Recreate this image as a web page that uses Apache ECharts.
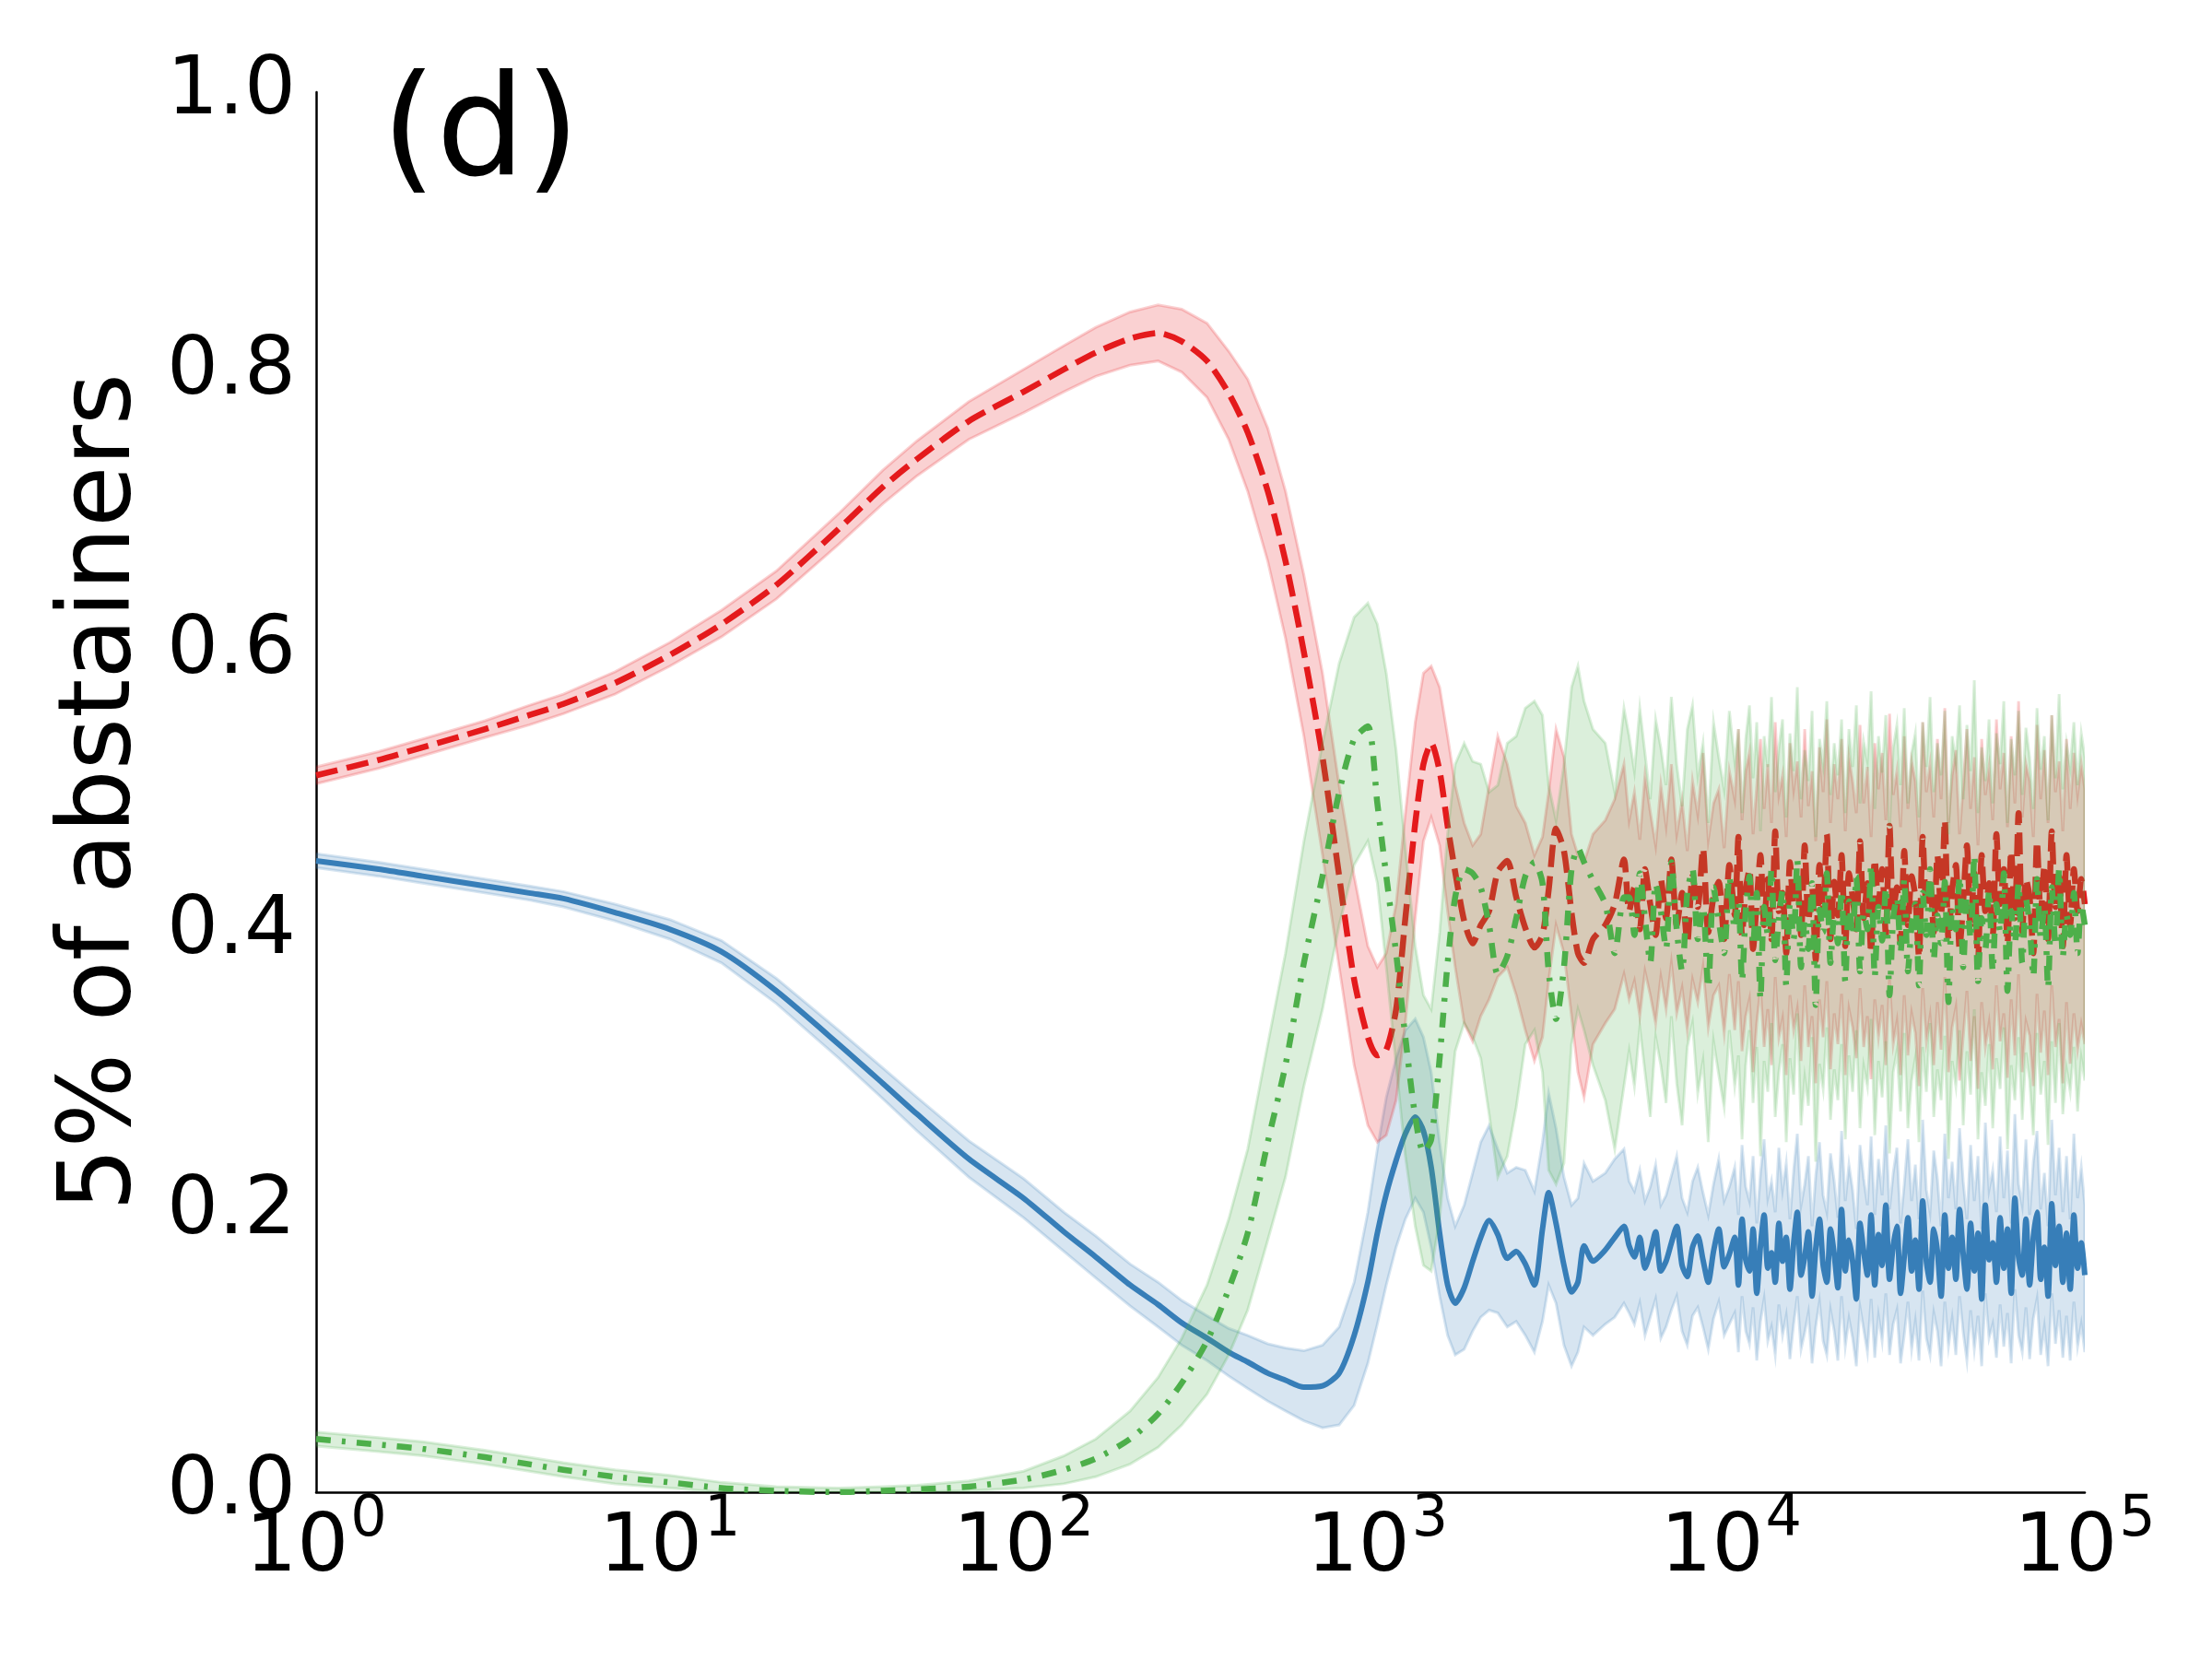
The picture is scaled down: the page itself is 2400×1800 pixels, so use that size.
<!DOCTYPE html>
<html>
<head>
<meta charset="utf-8">
<script src="https://cdn.jsdelivr.net/npm/echarts@6/dist/echarts.min.js"></script>
<style>
  html, body { margin: 0; padding: 0; background: #fff; }
  #chart { width: 2400px; height: 1800px; }
</style>
</head>
<body>
<div id="chart"></div>
<script>
// time steps (log axis), shared by all three series
const steps = [
  1, 1.5, 2, 3, 4, 5, 7, 10, 14, 20,
  30, 40, 50, 70, 100, 130, 160, 200, 240, 280,
  330, 380, 430, 490, 550, 620, 700, 780, 860, 940,
  1000, 1060, 1130, 1200, 1280, 1350, 1420, 1500, 1580, 1660,
  1760, 1860, 1960, 2070, 2190, 2330, 2470, 2620, 2780, 2930,
  3050, 3200, 3370, 3540, 3690, 3840, 4070, 4410, 4690, 4980,
  // noisy part
  5150, 5330, 5520, 5710, 5910, 6120, 6330, 6550, 6780, 7020,
  7270, 7520, 7780, 8050, 8330, 8620, 8920, 9230, 9560, 9890,
  10240, 10490, 10740, 11000, 11270, 11540, 11820, 12110, 12400, 12700,
  13010, 13330, 13650, 13980, 14320, 14670, 15030, 15390, 15770, 16150,
  16540, 16940, 17350, 17780, 18210, 18650, 19100, 19570, 20040, 20530,
  21030, 21540, 22060, 22600, 23150, 23710, 24290, 24880, 25480, 26100,
  26730, 27380, 28050, 28730, 29430, 30140, 30870, 31620, 32390, 33180,
  33980, 34810, 35650, 36520, 37410, 38310, 39240, 40200, 41170, 42170,
  43200, 44250, 45320, 46420, 47550, 48710, 49890, 51100, 52340, 53610,
  54920, 56250, 57620, 59020, 60450, 61920, 63430, 64970, 66550, 68170,
  69820, 71520, 73260, 75040, 76860, 78730, 80640, 82600, 84610, 86670,
  88770, 90930, 93140, 95400, 97720, 100000
];

// red, dashed
const redMean = [
  0.512, 0.523, 0.532, 0.545, 0.555, 0.563, 0.578, 0.598, 0.620, 0.648,
  0.688, 0.718, 0.738, 0.765, 0.786, 0.802, 0.814, 0.824, 0.828, 0.822,
  0.808, 0.785, 0.757, 0.715, 0.665, 0.600, 0.525, 0.440, 0.366, 0.325,
  0.312, 0.316, 0.345, 0.410, 0.478, 0.520, 0.535, 0.515, 0.476, 0.443,
  0.408, 0.392, 0.405, 0.415, 0.443, 0.451, 0.425, 0.403, 0.389, 0.398,
  0.430, 0.474, 0.458, 0.414, 0.385, 0.378, 0.395, 0.405, 0.420, 0.452,
  0.415, 0.432, 0.402, 0.445, 0.420, 0.398, 0.438, 0.410, 0.452, 0.405,
  0.428, 0.392, 0.440, 0.418, 0.460, 0.400, 0.425, 0.436, 0.395, 0.448,
  0.412, 0.468, 0.398, 0.430, 0.445, 0.388, 0.422, 0.455, 0.405, 0.438,
  0.395, 0.472, 0.415, 0.428, 0.385, 0.450, 0.420, 0.440, 0.398, 0.462,
  0.408, 0.432, 0.380, 0.448, 0.418, 0.470, 0.395, 0.436, 0.412, 0.455,
  0.390, 0.442, 0.425, 0.402, 0.465, 0.410, 0.435, 0.385, 0.452, 0.420,
  0.445, 0.398, 0.476, 0.415, 0.432, 0.392, 0.458, 0.405, 0.440, 0.425,
  0.382, 0.468, 0.418, 0.438, 0.400, 0.455, 0.412, 0.480, 0.395, 0.430,
  0.448, 0.388, 0.422, 0.462, 0.405, 0.442, 0.378, 0.455, 0.415, 0.435,
  0.398, 0.470, 0.420, 0.445, 0.392, 0.458, 0.410, 0.485, 0.400, 0.438,
  0.425, 0.385, 0.465, 0.412, 0.448, 0.395, 0.472, 0.418, 0.440, 0.390,
  0.455, 0.405, 0.445, 0.415, 0.438, 0.420
];
const redLo = [
  0.506, 0.517, 0.526, 0.539, 0.548, 0.556, 0.570, 0.590, 0.611, 0.638,
  0.677, 0.706, 0.726, 0.752, 0.771, 0.786, 0.797, 0.805, 0.808, 0.800,
  0.782, 0.752, 0.715, 0.665, 0.610, 0.540, 0.455, 0.375, 0.305, 0.262,
  0.250, 0.255, 0.280, 0.335, 0.410, 0.465, 0.482, 0.462, 0.415, 0.375,
  0.335, 0.322, 0.340, 0.352, 0.368, 0.375, 0.355, 0.330, 0.308, 0.325,
  0.365, 0.405, 0.385, 0.340, 0.300, 0.282, 0.320, 0.335, 0.345, 0.370,
  0.352, 0.365, 0.340, 0.372, 0.355, 0.335, 0.368, 0.345, 0.378, 0.342,
  0.360, 0.330, 0.366, 0.350, 0.375, 0.332, 0.355, 0.362, 0.328, 0.370,
  0.330, 0.365, 0.315, 0.340, 0.352, 0.300, 0.335, 0.360, 0.318, 0.345,
  0.305, 0.368, 0.325, 0.338, 0.298, 0.355, 0.330, 0.345, 0.308, 0.362,
  0.318, 0.340, 0.292, 0.352, 0.325, 0.365, 0.302, 0.342, 0.320, 0.356,
  0.298, 0.345, 0.332, 0.310, 0.360, 0.318, 0.340, 0.295, 0.352, 0.325,
  0.348, 0.305, 0.366, 0.320, 0.336, 0.298, 0.355, 0.312, 0.342, 0.328,
  0.290, 0.360, 0.322, 0.340, 0.305, 0.350, 0.316, 0.368, 0.300, 0.332,
  0.346, 0.294, 0.325, 0.358, 0.308, 0.340, 0.288, 0.350, 0.318, 0.335,
  0.302, 0.362, 0.322, 0.342, 0.296, 0.352, 0.312, 0.370, 0.300, 0.336,
  0.326, 0.290, 0.356, 0.314, 0.344, 0.298, 0.362, 0.318, 0.338, 0.292,
  0.350, 0.306, 0.342, 0.316, 0.334, 0.320
];
const redHi = [
  0.518, 0.529, 0.538, 0.551, 0.562, 0.570, 0.586, 0.607, 0.630, 0.658,
  0.699, 0.730, 0.751, 0.779, 0.802, 0.819, 0.832, 0.843, 0.848, 0.845,
  0.835, 0.815, 0.795, 0.760, 0.715, 0.655, 0.585, 0.505, 0.440, 0.390,
  0.375, 0.385, 0.420, 0.485, 0.550, 0.585, 0.590, 0.575, 0.540, 0.505,
  0.478, 0.462, 0.470, 0.505, 0.540, 0.520, 0.490, 0.478, 0.455, 0.468,
  0.500, 0.545, 0.525, 0.470, 0.455, 0.450, 0.470, 0.480, 0.495, 0.520,
  0.480, 0.500, 0.466, 0.512, 0.486, 0.462, 0.505, 0.476, 0.520, 0.470,
  0.494, 0.458, 0.508, 0.484, 0.528, 0.466, 0.492, 0.502, 0.460, 0.515,
  0.495, 0.545, 0.480, 0.515, 0.528, 0.470, 0.505, 0.538, 0.488, 0.520,
  0.478, 0.550, 0.498, 0.512, 0.468, 0.535, 0.502, 0.522, 0.482, 0.545,
  0.490, 0.515, 0.465, 0.532, 0.500, 0.552, 0.478, 0.520, 0.495, 0.538,
  0.472, 0.525, 0.508, 0.485, 0.548, 0.492, 0.518, 0.468, 0.535, 0.502,
  0.528, 0.480, 0.556, 0.498, 0.515, 0.475, 0.540, 0.488, 0.522, 0.508,
  0.465, 0.550, 0.500, 0.520, 0.482, 0.538, 0.495, 0.560, 0.478, 0.512,
  0.530, 0.470, 0.505, 0.545, 0.488, 0.525, 0.462, 0.538, 0.498, 0.518,
  0.480, 0.552, 0.502, 0.528, 0.475, 0.540, 0.492, 0.565, 0.482, 0.520,
  0.508, 0.468, 0.548, 0.495, 0.530, 0.478, 0.555, 0.500, 0.522, 0.472,
  0.538, 0.488, 0.528, 0.498, 0.520, 0.502
];

// blue, solid
const blueMean = [
  0.451, 0.445, 0.440, 0.433, 0.428, 0.424, 0.414, 0.402, 0.386, 0.358,
  0.320, 0.292, 0.270, 0.238, 0.210, 0.186, 0.168, 0.148, 0.134, 0.121,
  0.110, 0.100, 0.093, 0.085, 0.080, 0.075, 0.076, 0.085, 0.112, 0.150,
  0.185, 0.213, 0.237, 0.256, 0.268, 0.258, 0.232, 0.185, 0.148, 0.135,
  0.146, 0.165, 0.182, 0.194, 0.184, 0.167, 0.172, 0.163, 0.148, 0.188,
  0.214, 0.192, 0.162, 0.143, 0.150, 0.176, 0.165, 0.173, 0.182, 0.190,
  0.176, 0.168, 0.182, 0.160, 0.171, 0.186, 0.158, 0.165, 0.178, 0.190,
  0.162, 0.154, 0.175, 0.183, 0.166, 0.150, 0.172, 0.188, 0.161, 0.170,
  0.182, 0.148, 0.195, 0.166, 0.158, 0.188, 0.142, 0.176, 0.198, 0.160,
  0.171, 0.150, 0.192, 0.165, 0.182, 0.145, 0.178, 0.200, 0.155, 0.168,
  0.186, 0.140, 0.174, 0.195, 0.162, 0.150, 0.188, 0.170, 0.146, 0.202,
  0.158, 0.180, 0.165, 0.138, 0.192, 0.172, 0.155, 0.198, 0.148, 0.184,
  0.162, 0.205, 0.152, 0.176, 0.190, 0.142, 0.168, 0.196, 0.158, 0.180,
  0.145, 0.208, 0.165, 0.150, 0.188, 0.172, 0.140, 0.198, 0.160, 0.182,
  0.152, 0.202, 0.170, 0.145, 0.192, 0.158, 0.185, 0.138, 0.205, 0.166,
  0.178, 0.150, 0.196, 0.160, 0.188, 0.142, 0.210, 0.168, 0.155, 0.195,
  0.148, 0.182, 0.200, 0.152, 0.175, 0.140, 0.206, 0.162, 0.190, 0.150,
  0.185, 0.145, 0.198, 0.160, 0.178, 0.155
];
const blueLo = [
  0.446, 0.440, 0.435, 0.428, 0.423, 0.418, 0.408, 0.395, 0.378, 0.349,
  0.310, 0.281, 0.258, 0.225, 0.196, 0.172, 0.153, 0.133, 0.118, 0.105,
  0.094, 0.083, 0.074, 0.065, 0.058, 0.051, 0.046, 0.048, 0.062, 0.092,
  0.120, 0.148, 0.175, 0.195, 0.210, 0.200, 0.175, 0.140, 0.112, 0.098,
  0.102, 0.115, 0.125, 0.130, 0.128, 0.118, 0.122, 0.112, 0.100, 0.122,
  0.148, 0.135, 0.105, 0.090, 0.100, 0.118, 0.112, 0.120, 0.125, 0.135,
  0.128, 0.120, 0.135, 0.112, 0.125, 0.138, 0.110, 0.118, 0.130, 0.140,
  0.115, 0.105, 0.126, 0.132, 0.118, 0.102, 0.124, 0.136, 0.112, 0.120,
  0.128, 0.100, 0.140, 0.115, 0.106, 0.132, 0.094, 0.122, 0.138, 0.108,
  0.118, 0.098, 0.134, 0.112, 0.126, 0.095, 0.120, 0.140, 0.102, 0.114,
  0.128, 0.092, 0.118, 0.136, 0.108, 0.098, 0.130, 0.115, 0.094, 0.140,
  0.104, 0.124, 0.110, 0.090, 0.132, 0.116, 0.100, 0.138, 0.096, 0.126,
  0.108, 0.142, 0.098, 0.120, 0.130, 0.092, 0.112, 0.136, 0.102, 0.122,
  0.094, 0.144, 0.110, 0.098, 0.128, 0.115, 0.090, 0.136, 0.104, 0.124,
  0.098, 0.140, 0.114, 0.094, 0.130, 0.102, 0.126, 0.090, 0.142, 0.110,
  0.120, 0.096, 0.134, 0.104, 0.128, 0.092, 0.145, 0.112, 0.100, 0.132,
  0.095, 0.124, 0.138, 0.098, 0.118, 0.090, 0.142, 0.106, 0.130, 0.096,
  0.126, 0.094, 0.136, 0.104, 0.120, 0.100
];
const blueHi = [
  0.456, 0.450, 0.445, 0.438, 0.433, 0.429, 0.420, 0.409, 0.394, 0.367,
  0.330, 0.303, 0.282, 0.251, 0.224, 0.200, 0.183, 0.163, 0.150, 0.137,
  0.126, 0.117, 0.112, 0.106, 0.103, 0.101, 0.105, 0.118, 0.150, 0.200,
  0.245, 0.282, 0.310, 0.330, 0.338, 0.325, 0.300, 0.250, 0.210, 0.190,
  0.205, 0.228, 0.250, 0.262, 0.245, 0.228, 0.232, 0.230, 0.215, 0.250,
  0.285, 0.260, 0.225, 0.205, 0.210, 0.235, 0.222, 0.228, 0.238, 0.245,
  0.222, 0.215, 0.230, 0.208, 0.218, 0.234, 0.205, 0.212, 0.226, 0.240,
  0.210, 0.200, 0.222, 0.232, 0.214, 0.198, 0.220, 0.238, 0.208, 0.218,
  0.232, 0.198, 0.248, 0.218, 0.208, 0.240, 0.192, 0.228, 0.252, 0.210,
  0.222, 0.200, 0.246, 0.216, 0.235, 0.195, 0.230, 0.256, 0.205, 0.220,
  0.240, 0.190, 0.226, 0.250, 0.212, 0.200, 0.242, 0.222, 0.196, 0.258,
  0.208, 0.234, 0.216, 0.188, 0.248, 0.224, 0.205, 0.254, 0.198, 0.238,
  0.212, 0.262, 0.202, 0.228, 0.246, 0.192, 0.220, 0.252, 0.208, 0.234,
  0.195, 0.266, 0.216, 0.200, 0.244, 0.224, 0.190, 0.256, 0.210, 0.236,
  0.202, 0.260, 0.222, 0.195, 0.248, 0.208, 0.240, 0.188, 0.264, 0.216,
  0.230, 0.200, 0.254, 0.210, 0.244, 0.192, 0.270, 0.220, 0.205, 0.252,
  0.198, 0.236, 0.258, 0.202, 0.228, 0.190, 0.266, 0.212, 0.246, 0.200,
  0.240, 0.195, 0.256, 0.210, 0.232, 0.205
];

// green, dash-dot
const greenMean = [
  0.038, 0.034, 0.031, 0.025, 0.020, 0.016, 0.011, 0.007, 0.003, 0.001,
  0.000, 0.001, 0.002, 0.004, 0.009, 0.016, 0.024, 0.038, 0.056, 0.078,
  0.108, 0.145, 0.185, 0.250, 0.305, 0.378, 0.440, 0.500, 0.538, 0.547,
  0.492, 0.440, 0.385, 0.325, 0.268, 0.243, 0.252, 0.310, 0.378, 0.425,
  0.445, 0.442, 0.432, 0.405, 0.370, 0.383, 0.410, 0.440, 0.450, 0.435,
  0.372, 0.338, 0.375, 0.445, 0.460, 0.450, 0.437, 0.420, 0.385, 0.425,
  0.425, 0.398, 0.442, 0.410, 0.378, 0.435, 0.415, 0.388, 0.450, 0.402,
  0.372, 0.428, 0.445, 0.395, 0.418, 0.360, 0.432, 0.408, 0.385, 0.440,
  0.402, 0.422, 0.365, 0.415, 0.440, 0.390, 0.428, 0.352, 0.418, 0.398,
  0.445, 0.380, 0.410, 0.430, 0.362, 0.420, 0.395, 0.452, 0.375, 0.408,
  0.388, 0.435, 0.348, 0.416, 0.400, 0.442, 0.378, 0.412, 0.392, 0.430,
  0.365, 0.422, 0.398, 0.440, 0.372, 0.414, 0.402, 0.448, 0.368, 0.418,
  0.394, 0.432, 0.355, 0.410, 0.425, 0.385, 0.438, 0.372, 0.405, 0.420,
  0.362, 0.428, 0.398, 0.445, 0.380, 0.412, 0.392, 0.436, 0.350, 0.418,
  0.402, 0.440, 0.375, 0.425, 0.395, 0.455, 0.365, 0.410, 0.388, 0.430,
  0.372, 0.420, 0.400, 0.442, 0.358, 0.415, 0.392, 0.435, 0.378, 0.424,
  0.405, 0.368, 0.438, 0.396, 0.418, 0.360, 0.432, 0.390, 0.445, 0.382,
  0.412, 0.398, 0.428, 0.385, 0.420, 0.405
];
const greenLo = [
  0.033, 0.029, 0.026, 0.020, 0.015, 0.011, 0.006, 0.003, 0.000, 0.000,
  0.000, 0.000, 0.000, 0.001, 0.003, 0.006, 0.011, 0.020, 0.032, 0.048,
  0.070, 0.098, 0.130, 0.180, 0.225, 0.290, 0.345, 0.405, 0.448, 0.465,
  0.435, 0.375, 0.305, 0.240, 0.190, 0.162, 0.158, 0.195, 0.260, 0.315,
  0.335, 0.325, 0.310, 0.270, 0.225, 0.240, 0.275, 0.320, 0.330, 0.300,
  0.230, 0.220, 0.235, 0.320, 0.345, 0.330, 0.305, 0.280, 0.245, 0.290,
  0.315, 0.290, 0.332, 0.300, 0.268, 0.325, 0.305, 0.278, 0.340, 0.292,
  0.262, 0.318, 0.335, 0.285, 0.308, 0.250, 0.322, 0.298, 0.275, 0.330,
  0.290, 0.312, 0.252, 0.305, 0.330, 0.278, 0.318, 0.240, 0.308, 0.286,
  0.335, 0.268, 0.300, 0.320, 0.250, 0.310, 0.284, 0.342, 0.262, 0.296,
  0.276, 0.325, 0.236, 0.306, 0.288, 0.332, 0.266, 0.302, 0.280, 0.320,
  0.252, 0.312, 0.286, 0.330, 0.260, 0.304, 0.290, 0.338, 0.255, 0.308,
  0.282, 0.322, 0.242, 0.300, 0.315, 0.272, 0.328, 0.260, 0.294, 0.310,
  0.250, 0.318, 0.286, 0.335, 0.268, 0.302, 0.280, 0.326, 0.238, 0.308,
  0.290, 0.330, 0.262, 0.315, 0.284, 0.345, 0.252, 0.300, 0.276, 0.320,
  0.260, 0.310, 0.288, 0.332, 0.245, 0.305, 0.280, 0.325, 0.266, 0.314,
  0.294, 0.255, 0.328, 0.284, 0.308, 0.248, 0.322, 0.278, 0.335, 0.270,
  0.302, 0.286, 0.318, 0.272, 0.310, 0.294
];
const greenHi = [
  0.043, 0.039, 0.036, 0.030, 0.025, 0.021, 0.016, 0.012, 0.007, 0.004,
  0.003, 0.004, 0.005, 0.008, 0.015, 0.026, 0.038, 0.058, 0.082, 0.110,
  0.148, 0.195, 0.245, 0.320, 0.385, 0.465, 0.535, 0.592, 0.625, 0.635,
  0.620, 0.585, 0.530, 0.460, 0.390, 0.355, 0.345, 0.400, 0.470, 0.520,
  0.535, 0.522, 0.520, 0.500, 0.505, 0.535, 0.540, 0.560, 0.565, 0.555,
  0.505, 0.480, 0.520, 0.575, 0.590, 0.565, 0.545, 0.535, 0.500, 0.560,
  0.540, 0.515, 0.560, 0.528, 0.495, 0.552, 0.532, 0.505, 0.568, 0.520,
  0.490, 0.545, 0.562, 0.512, 0.535, 0.478, 0.550, 0.525, 0.502, 0.558,
  0.522, 0.545, 0.485, 0.538, 0.562, 0.510, 0.550, 0.472, 0.540, 0.518,
  0.568, 0.500, 0.532, 0.552, 0.482, 0.542, 0.515, 0.575, 0.495, 0.530,
  0.508, 0.558, 0.468, 0.538, 0.520, 0.565, 0.498, 0.535, 0.512, 0.552,
  0.485, 0.545, 0.518, 0.562, 0.492, 0.536, 0.522, 0.572, 0.488, 0.540,
  0.514, 0.555, 0.475, 0.532, 0.548, 0.505, 0.560, 0.492, 0.528, 0.542,
  0.482, 0.550, 0.518, 0.568, 0.500, 0.535, 0.512, 0.558, 0.470, 0.540,
  0.522, 0.562, 0.495, 0.548, 0.515, 0.580, 0.485, 0.532, 0.508, 0.552,
  0.492, 0.542, 0.520, 0.565, 0.478, 0.538, 0.512, 0.558, 0.498, 0.546,
  0.525, 0.488, 0.560, 0.516, 0.540, 0.480, 0.555, 0.510, 0.570, 0.502,
  0.535, 0.518, 0.550, 0.505, 0.542, 0.525
];

// axis ticks
const xTickPowers = [0, 1, 2, 3, 4, 5];
const yTicks = [0.0, 0.2, 0.4, 0.6, 0.8, 1.0];

const FONT = 'DejaVu Sans';

function pairs(ys) {
  return steps.map((x, i) => [x, ys[i]]);
}

// shaded band between lo and hi, drawn as one polygon through the axis scales
function band(lo, hi, fill, z) {
  return {
    type: 'custom',
    coordinateSystem: 'cartesian2d',
    z: z,
    silent: true,
    clip: true,
    data: steps.map((x, i) => [x, lo[i], hi[i]]),
    encode: { x: 0, y: [1, 2] },
    renderItem: function (params, api) {
      if (params.dataIndex !== 0) return null;
      let top = steps.map((x, i) => api.coord([x, hi[i]]));
      let bot = steps.map((x, i) => api.coord([x, lo[i]])).reverse();
      return {
        type: 'polygon',
        shape: { points: top.concat(bot) },
        style: { fill: fill, stroke: fill, lineWidth: 3 }
      };
    }
  };
}

function meanLine(ys, color, width, dash, z) {
  return {
    type: 'line',
    data: pairs(ys),
    symbol: 'none',
    showSymbol: false,
    smooth: 0.25,
    clip: true,
    z: z,
    silent: true,
    lineStyle: { color: color, width: width, type: dash, cap: 'butt', join: 'round' }
  };
}

let chart = echarts.init(document.getElementById('chart'));
chart.setOption({
  animation: false,
  backgroundColor: '#fff',
  grid: { left: 343, right: 138, top: 100, bottom: 181, containLabel: false },
  xAxis: {
    type: 'log',
    logBase: 10,
    min: Math.pow(10, xTickPowers[0]),
    max: Math.pow(10, xTickPowers[xTickPowers.length - 1]),
    axisLine: { show: true, onZero: false, lineStyle: { color: '#000', width: 2.5 } },
    axisTick: { show: false },
    splitLine: { show: false },
    minorTick: { show: false },
    axisLabel: {
      showMinLabel: true,
      showMaxLabel: true,
      margin: 0,
      formatter: function (v) {
        return '{b|10}{s|' + Math.round(Math.log10(v)) + '}';
      },
      rich: {
        b: { fontSize: 88, fontFamily: FONT, color: '#000' },
        s: { fontSize: 62, fontFamily: FONT, color: '#000', padding: [0, 0, 62, 2] }
      }
    }
  },
  yAxis: {
    type: 'value',
    min: yTicks[0],
    max: yTicks[yTicks.length - 1],
    interval: 0.2,
    axisLine: { show: true, onZero: false, lineStyle: { color: '#000', width: 2.5 } },
    axisTick: { show: false },
    splitLine: { show: false },
    axisLabel: {
      margin: 22,
      fontSize: 88,
      fontFamily: FONT,
      color: '#000',
      formatter: function (v) { return v.toFixed(1); }
    },
    name: '5% of abstainers',
    nameLocation: 'middle',
    nameGap: 177,
    nameTextStyle: { fontSize: 108, fontFamily: FONT, color: '#000' }
  },
  graphic: [{
    type: 'text',
    left: 414,
    top: 74,
    style: { text: '(d)', fontSize: 152, fontFamily: FONT, fill: '#000' }
  }],
  series: [
    band(blueLo, blueHi, 'rgba(55,126,184,0.2)', 1),
    meanLine(blueMean, '#377eb8', 6, 'solid', 2),
    band(redLo, redHi, 'rgba(228,26,28,0.2)', 3),
    meanLine(redMean, '#e41a1c', 6.5, [24, 10], 4),
    band(greenLo, greenHi, 'rgba(77,175,74,0.2)', 5),
    meanLine(greenMean, '#4daf4a', 6.5, [16, 12, 4, 12], 6)
  ]
});
</script>
</body>
</html>
